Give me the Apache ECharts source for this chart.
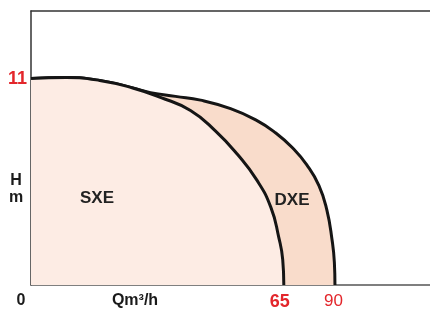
<!DOCTYPE html>
<html>
<head>
<meta charset="utf-8">
<script src="https://cdn.jsdelivr.net/npm/echarts@6/dist/echarts.min.js"></script>
<style>
  html, body { margin: 0; padding: 0; background: #fff; }
  #chart { width: 430px; height: 311px; }
</style>
</head>
<body>
<div id="chart"></div>
<script>
// pump curves, flow Q (m3/h) vs head H (m)
var sxeQ = [0, 2, 6.5, 13, 19.9, 28.8, 37.3, 45.5, 53.2, 59.2, 62.7, 64.5, 65];
var sxeH = [11, 11.05, 10.9, 10.5, 10.0, 9.3, 8.2, 6.95, 5.6, 4.15, 2.55, 1.35, 0];
// DXE follows SXE until they split
var dxeQ = [0, 2, 6.5, 13, 17.3, 24.2, 32.1, 42.8, 52.8, 61.4, 69.1, 75.8, 81.8, 85.8, 88.5, 89.7, 90];
var dxeH = [11, 11.05, 10.9, 10.5, 10.25, 10.05, 9.85, 9.4, 8.8, 8.1, 7.3, 6.4, 5.3, 4.0, 2.4, 1.2, 0];

var qTicks = [0, 65, 90];
var hTicks = [11];

// the drawing uses a compressed flow scale (schematic)
var QEXP = 0.566;
function toX(q) { return Math.pow(q, QEXP); }
function toQ(x) { return Math.round(Math.pow(x, 1 / QEXP)); }

function pairs(qs, hs) {
  return qs.map(function (q, i) { return [toX(q), hs[i]]; });
}

var chart = echarts.init(document.getElementById('chart'));
var font = 'Liberation Sans';

var option = {
  animation: false,
  grid: { left: 31, right: 0, top: 11, bottom: 26 },
  xAxis: [{
    type: 'value',
    min: 0,
    max: 16.76,
    splitLine: { show: false },
    axisTick: { show: false },
    axisLine: { show: true, lineStyle: { color: '#555', width: 1.5 } },
    axisLabel: {
      customValues: qTicks.map(toX),
      margin: 8,
      formatter: function (v) {
        var q = toQ(v);
        if (q === 0) return '{z|0}';
        if (q === 65) return '{a|65}';
        return '{b|' + q + '}';
      },
      rich: {
        z: { fontFamily: font, fontWeight: 'bold', fontSize: 16, color: '#1a1a1a', padding: [0, 20, 0, 0] },
        a: { fontFamily: font, fontWeight: 'bold', fontSize: 18, color: '#e3262b', padding: [0, 8, 0, 0] },
        b: { fontFamily: font, fontSize: 17, color: '#e3262b', padding: [0, 3, 0, 0] }
      }
    }
  }, {
    type: 'value',
    position: 'top',
    min: 0,
    max: 16.76,
    splitLine: { show: false },
    axisTick: { show: false },
    axisLabel: { show: false },
    axisLine: { show: true, lineStyle: { color: '#333', width: 1.5 } }
  }],
  yAxis: {
    type: 'value',
    min: 0,
    max: 14.6,
    splitLine: { show: false },
    axisTick: { show: false },
    axisLine: { show: true, lineStyle: { color: '#333', width: 1.5 } },
    axisLabel: {
      customValues: hTicks,
      margin: 4,
      fontFamily: font,
      fontWeight: 'bold',
      fontSize: 18,
      color: '#e3262b'
    }
  },
  graphic: [
    { type: 'text', x: 16, y: 181, style: { text: 'H', font: 'bold 16px ' + font, fill: '#1a1a1a', align: 'center', verticalAlign: 'middle' } },
    { type: 'text', x: 16, y: 198, style: { text: 'm', font: 'bold 16px ' + font, fill: '#1a1a1a', align: 'center', verticalAlign: 'middle' } },
    { type: 'text', x: 135, y: 301, style: { text: 'Qm³/h', font: 'bold 16px ' + font, fill: '#1a1a1a', align: 'center', verticalAlign: 'middle' } },
    { type: 'text', x: 97, y: 198, z: 10, style: { text: 'SXE', font: 'bold 17px ' + font, fill: '#222', align: 'center', verticalAlign: 'middle' } },
    { type: 'text', x: 292, y: 200, z: 10, style: { text: 'DXE', font: 'bold 17px ' + font, fill: '#222', align: 'center', verticalAlign: 'middle' } }
  ],
  series: [
    {
      name: 'DXE',
      type: 'line',
      data: pairs(dxeQ, dxeH),
      smooth: 0.5,
      showSymbol: false,
      lineStyle: { color: '#151515', width: 3 },
      areaStyle: { color: '#f9dccb', opacity: 1 },
      z: 2
    },
    {
      name: 'SXE',
      type: 'line',
      data: pairs(sxeQ, sxeH),
      smooth: 0.5,
      showSymbol: false,
      lineStyle: { color: '#151515', width: 3 },
      areaStyle: { color: '#fdece4', opacity: 1 },
      z: 3
    }
  ]
};

chart.setOption(option);
</script>
</body>
</html>
